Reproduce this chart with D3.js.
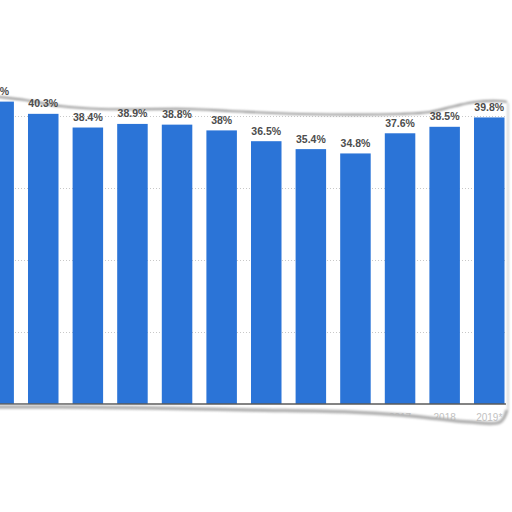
<!DOCTYPE html>
<html>
  <head>
    <script src="https://cdn.jsdelivr.net/npm/d3@7"></script>
    <style>
      body { margin: 0; background: #fff; }
    </style>
  </head>
  <body>
  <script>
  var width = 512, height = 512;

  // data
  var years = ["2008", "2009", "2010", "2011", "2012", "2013", "2014", "2015", "2016", "2017", "2018", "2019*"];
  var values = [42.0, 40.3, 38.4, 38.9, 38.8, 38.0, 36.5, 35.4, 34.8, 37.6, 38.5, 39.8];
  var labels = ["42%", "40.3%", "38.4%", "38.9%", "38.8%", "38%", "36.5%", "35.4%", "34.8%", "37.6%", "38.5%", "39.8%"];
  var gridTicks = [10, 20, 30, 40];

  // torn paper edges (roughly traced)
  var topEdge = [[-10, 96], [0, 97], [25, 100], [60, 106], [100, 109], [190, 109], [230, 111], [300, 114], [400, 114], [430, 112], [455, 106], [475, 102], [500, 101], [507, 102]];
  var bottomEdge = [[507, 410], [500, 422], [470, 422], [440, 419], [400, 415], [350, 412], [250, 410], [150, 408], [60, 407], [0, 407], [-10, 407]];

  var body = d3.select('body');
  var svg = body.append("svg")
      .attr("width", width)
      .attr("height", height);

  var defs = svg.append("defs");
  defs.append("filter").attr("id", "blur")
      .attr("x", "-10%").attr("y", "-50%").attr("width", "120%").attr("height", "200%")
    .append("feGaussianBlur").attr("stdDeviation", 1.3);

  var line = d3.line().curve(d3.curveCatmullRom);
  // top tear, straight right side, bottom tear
  var paperPath = line(topEdge) + line(bottomEdge).replace(/^M/, "L") + "Z";
  defs.append("clipPath").attr("id", "paper")
    .append("path").attr("d", paperPath);

  var x = d3.scaleBand()
      .domain(years)
      .range([-23.65, 511.55])
      .paddingInner(0.316)
      .paddingOuter(0.158);

  var y = d3.scaleLinear()
      .domain([0, 40])
      .range([404, 116]);

  var chart = svg.append("g").attr("clip-path", "url(#paper)");

  chart.selectAll(".grid")
      .data(gridTicks)
    .enter().append("line")
      .attr("class", "grid")
      .attr("x1", 0).attr("x2", 506)
      .attr("y1", function(d) { return Math.round(y(d)) + 0.5; })
      .attr("y2", function(d) { return Math.round(y(d)) + 0.5; })
      .attr("stroke", "#c8c8c8")
      .attr("stroke-dasharray", "1,2");

  chart.selectAll(".bar")
      .data(values)
    .enter().append("rect")
      .attr("class", "bar")
      .attr("x", function(d, i) { return x(years[i]); })
      .attr("width", x.bandwidth())
      .attr("y", function(d) { return y(d); })
      .attr("height", function(d) { return y(0) - y(d); })
      .attr("fill", "#2b74d7");

  chart.append("line")
      .attr("x1", 0).attr("x2", 506)
      .attr("y1", y(0)).attr("y2", y(0))
      .attr("stroke", "#5a5a5a")
      .attr("stroke-width", 1.5);

  chart.selectAll(".year")
      .data(years)
    .enter().append("text")
      .attr("class", "year")
      .attr("x", function(d) { return x(d) + x.bandwidth() / 2; })
      .attr("y", 421)
      .attr("text-anchor", "middle")
      .attr("font-family", "Liberation Sans, Arial, sans-serif")
      .attr("font-size", 10)
      .attr("fill", "#c2c2c2")
      .text(function(d) { return d; });

  // shadow of the tear, over the paper edge
  var shadow = svg.append("g").attr("filter", "url(#blur)");
  shadow.append("path")
      .attr("d", line(topEdge))
      .attr("fill", "none")
      .attr("stroke", "#9a9a9a")
      .attr("stroke-width", 2.2);
  shadow.append("path")
      .attr("d", line(bottomEdge))
      .attr("fill", "none")
      .attr("stroke", "#b0b0b0")
      .attr("stroke-width", 3.5);
  shadow.append("line")
      .attr("x1", 508).attr("x2", 508)
      .attr("y1", 103).attr("y2", 410)
      .attr("stroke", "#d8d8d8")
      .attr("stroke-width", 2);

  svg.selectAll(".val")
      .data(values)
    .enter().append("text")
      .attr("class", "val")
      .attr("x", function(d, i) { return x(years[i]) + x.bandwidth() / 2; })
      .attr("y", function(d) { return y(d) - 6.5; })
      .attr("text-anchor", "middle")
      .attr("font-family", "Liberation Sans, Arial, sans-serif")
      .attr("font-weight", "bold")
      .attr("font-size", 10.5)
      .attr("fill", "#4d4d4d")
      .text(function(d, i) { return labels[i]; });

  </script>
  </body>
</html>
